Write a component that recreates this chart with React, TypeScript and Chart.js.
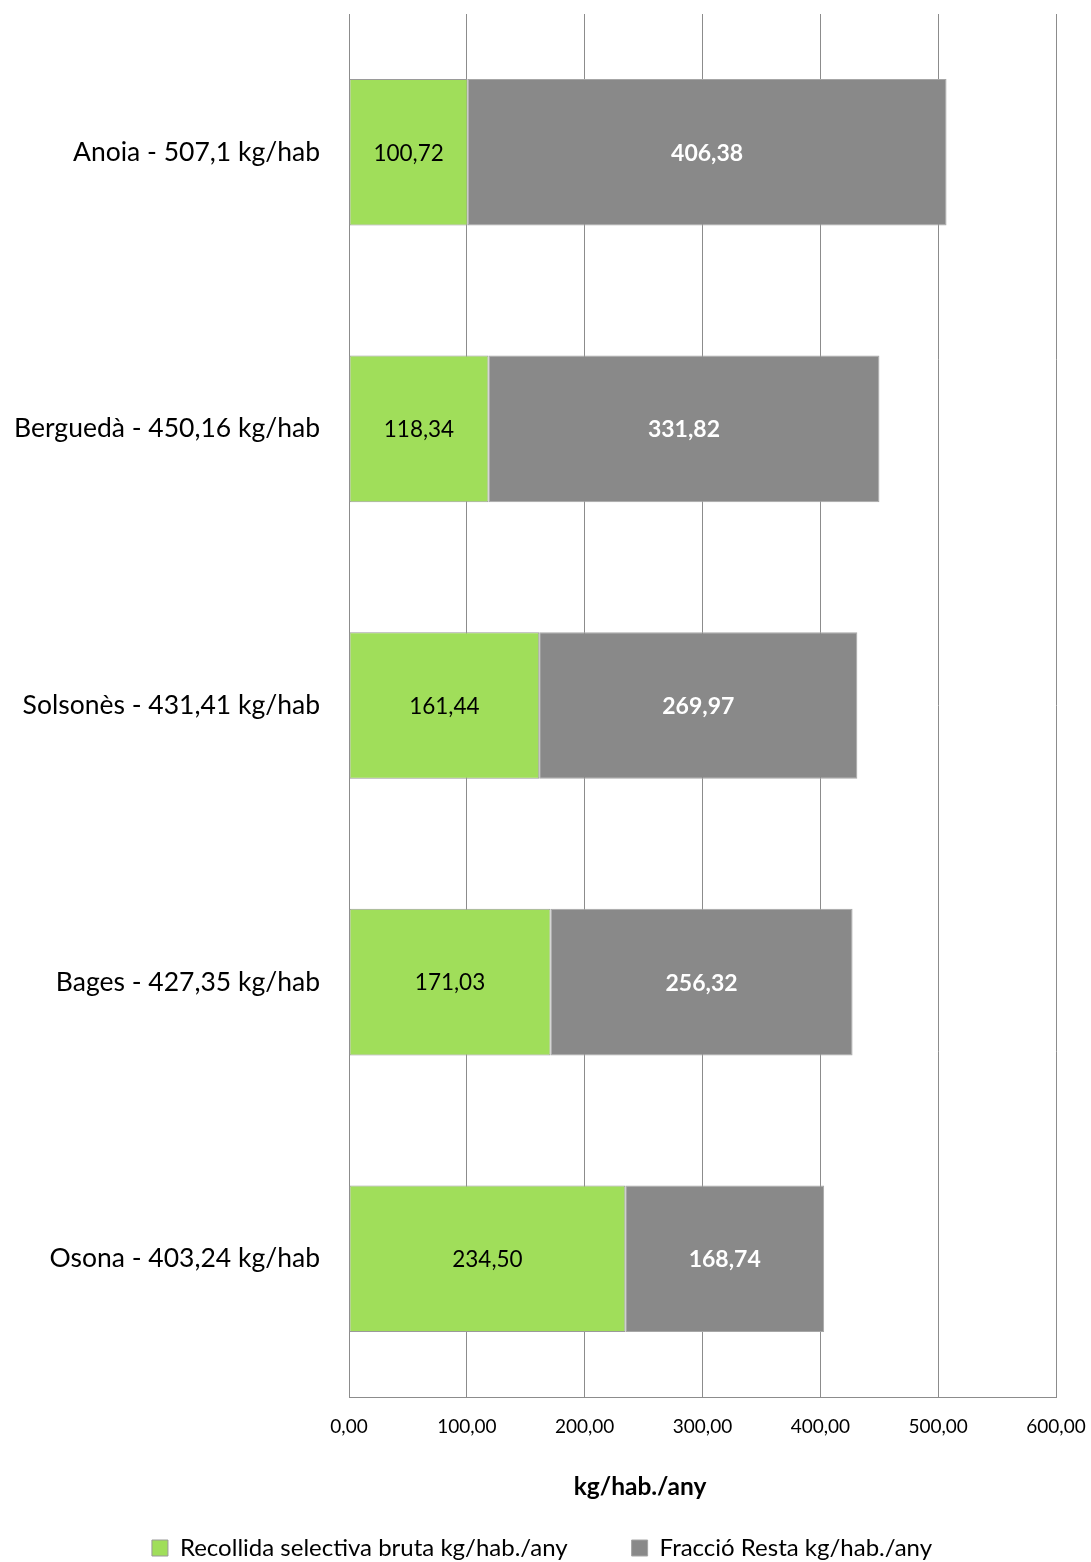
import React, { useEffect, useRef } from "react";
import { Chart, registerables } from "chart.js";

Chart.register(...registerables);

const categories = [
  "Anoia - 507,1 kg/hab",
  "Berguedà - 450,16 kg/hab",
  "Solsonès - 431,41 kg/hab",
  "Bages - 427,35 kg/hab",
  "Osona - 403,24 kg/hab",
];
const selectiva = [100.72, 118.34, 161.44, 171.03, 234.5];
const resta = [406.38, 331.82, 269.97, 256.32, 168.74];
const seriesNames = ["Recollida selectiva bruta kg/hab./any", "Fracció Resta kg/hab./any"];
const axisTitle = "kg/hab./any";

const FONT = "Lato, 'Open Sans', sans-serif";
const fmt = (v: number) => v.toFixed(2).replace(".", ",");

const labelPlugin = {
  id: "segLabels",
  afterDatasetsDraw(chart: any) {
    const ctx = chart.ctx;
    chart.data.datasets.forEach((ds: any, di: number) => {
      const meta = chart.getDatasetMeta(di);
      meta.data.forEach((bar: any, i: number) => {
        const v = ds.data[i];
        const cx = (bar.x + bar.base) / 2;
        ctx.save();
        ctx.font = di === 1 ? "bold 23px " + FONT : "22.5px " + FONT;
        ctx.fillStyle = di === 1 ? "#ffffff" : "#000000";
        ctx.textAlign = "center";
        ctx.textBaseline = "middle";
        ctx.fillText(fmt(v), cx, bar.y + 1);
        ctx.restore();
      });
    });
  },
  afterDraw(chart: any) {
    const ctx = chart.ctx;
    ctx.save();
    ctx.font = "bold 24.5px " + FONT;
    ctx.fillStyle = "#000";
    ctx.textAlign = "center";
    ctx.textBaseline = "middle";
    ctx.fillText(axisTitle, 640, chart.chartArea.bottom + 90);
    ctx.restore();
  },
};

export default function App() {
  const ref = useRef<HTMLCanvasElement>(null);
  useEffect(() => {
    if (!ref.current) return;
    const chart = new Chart(ref.current, {
      type: "bar",
      data: {
        labels: categories,
        datasets: [
          {
            label: seriesNames[0],
            data: selectiva,
            backgroundColor: "#a0de5a",
            borderColor: "#9a9a9a",
            borderWidth: 1,
            borderSkipped: false,
            barPercentage: 0.53,
            categoryPercentage: 1,
          },
          {
            label: seriesNames[1],
            data: resta,
            backgroundColor: "#898989",
            borderColor: "#a6a6a6",
            borderWidth: 1,
            borderSkipped: false,
            barPercentage: 0.53,
            categoryPercentage: 1,
          },
        ],
      },
      options: {
        indexAxis: "y",
        responsive: false,
        animation: false,
        layout: { padding: { top: 14, right: 35, left: 28, bottom: 0 } },
        plugins: {
          tooltip: { enabled: false },
          legend: {
            position: "bottom",
            labels: {
              boxWidth: 16,
              boxHeight: 16,
              padding: 64,
              color: "#000",
              font: { family: FONT, size: 24 },
            },
          },
        },
        scales: {
          x: {
            stacked: true,
            min: 0,
            max: 600,
            afterFit: (scale: any) => {
              scale.height = 75;
              scale.paddingLeft = 0;
              scale.paddingRight = 0;
            },
            ticks: {
              stepSize: 100,
              padding: 18,
              color: "#000",
              font: { family: FONT, size: 19 },
              callback: (v: any) => fmt(Number(v)),
              maxRotation: 0,
            },
            grid: { color: "#8c8c8c", drawTicks: false, lineWidth: 1 },
            border: { color: "#8c8c8c" },
          },
          y: {
            stacked: true,
            afterFit: (scale: any) => {
              scale.width = 321;
              scale.paddingTop = 0;
              scale.paddingBottom = 0;
              scale._computeLabelArea = () => undefined;
            },
            ticks: {
              padding: 29,
              color: "#000",
              font: { family: FONT, size: 26.5 },
            },
            grid: { display: false, drawTicks: false },
            border: { color: "#8c8c8c" },
          },
        },
      },
      plugins: [labelPlugin],
    } as any);
    return () => chart.destroy();
  }, []);
  return (
    <div
      style={{
        position: "absolute",
        left: 0,
        top: 0,
        width: 1091,
        height: 1562,
        overflow: "hidden",
        background: "#fff",
      }}
    >
      <canvas ref={ref} width={1091} height={1570} style={{ display: "block" }} />
    </div>
  );
}
